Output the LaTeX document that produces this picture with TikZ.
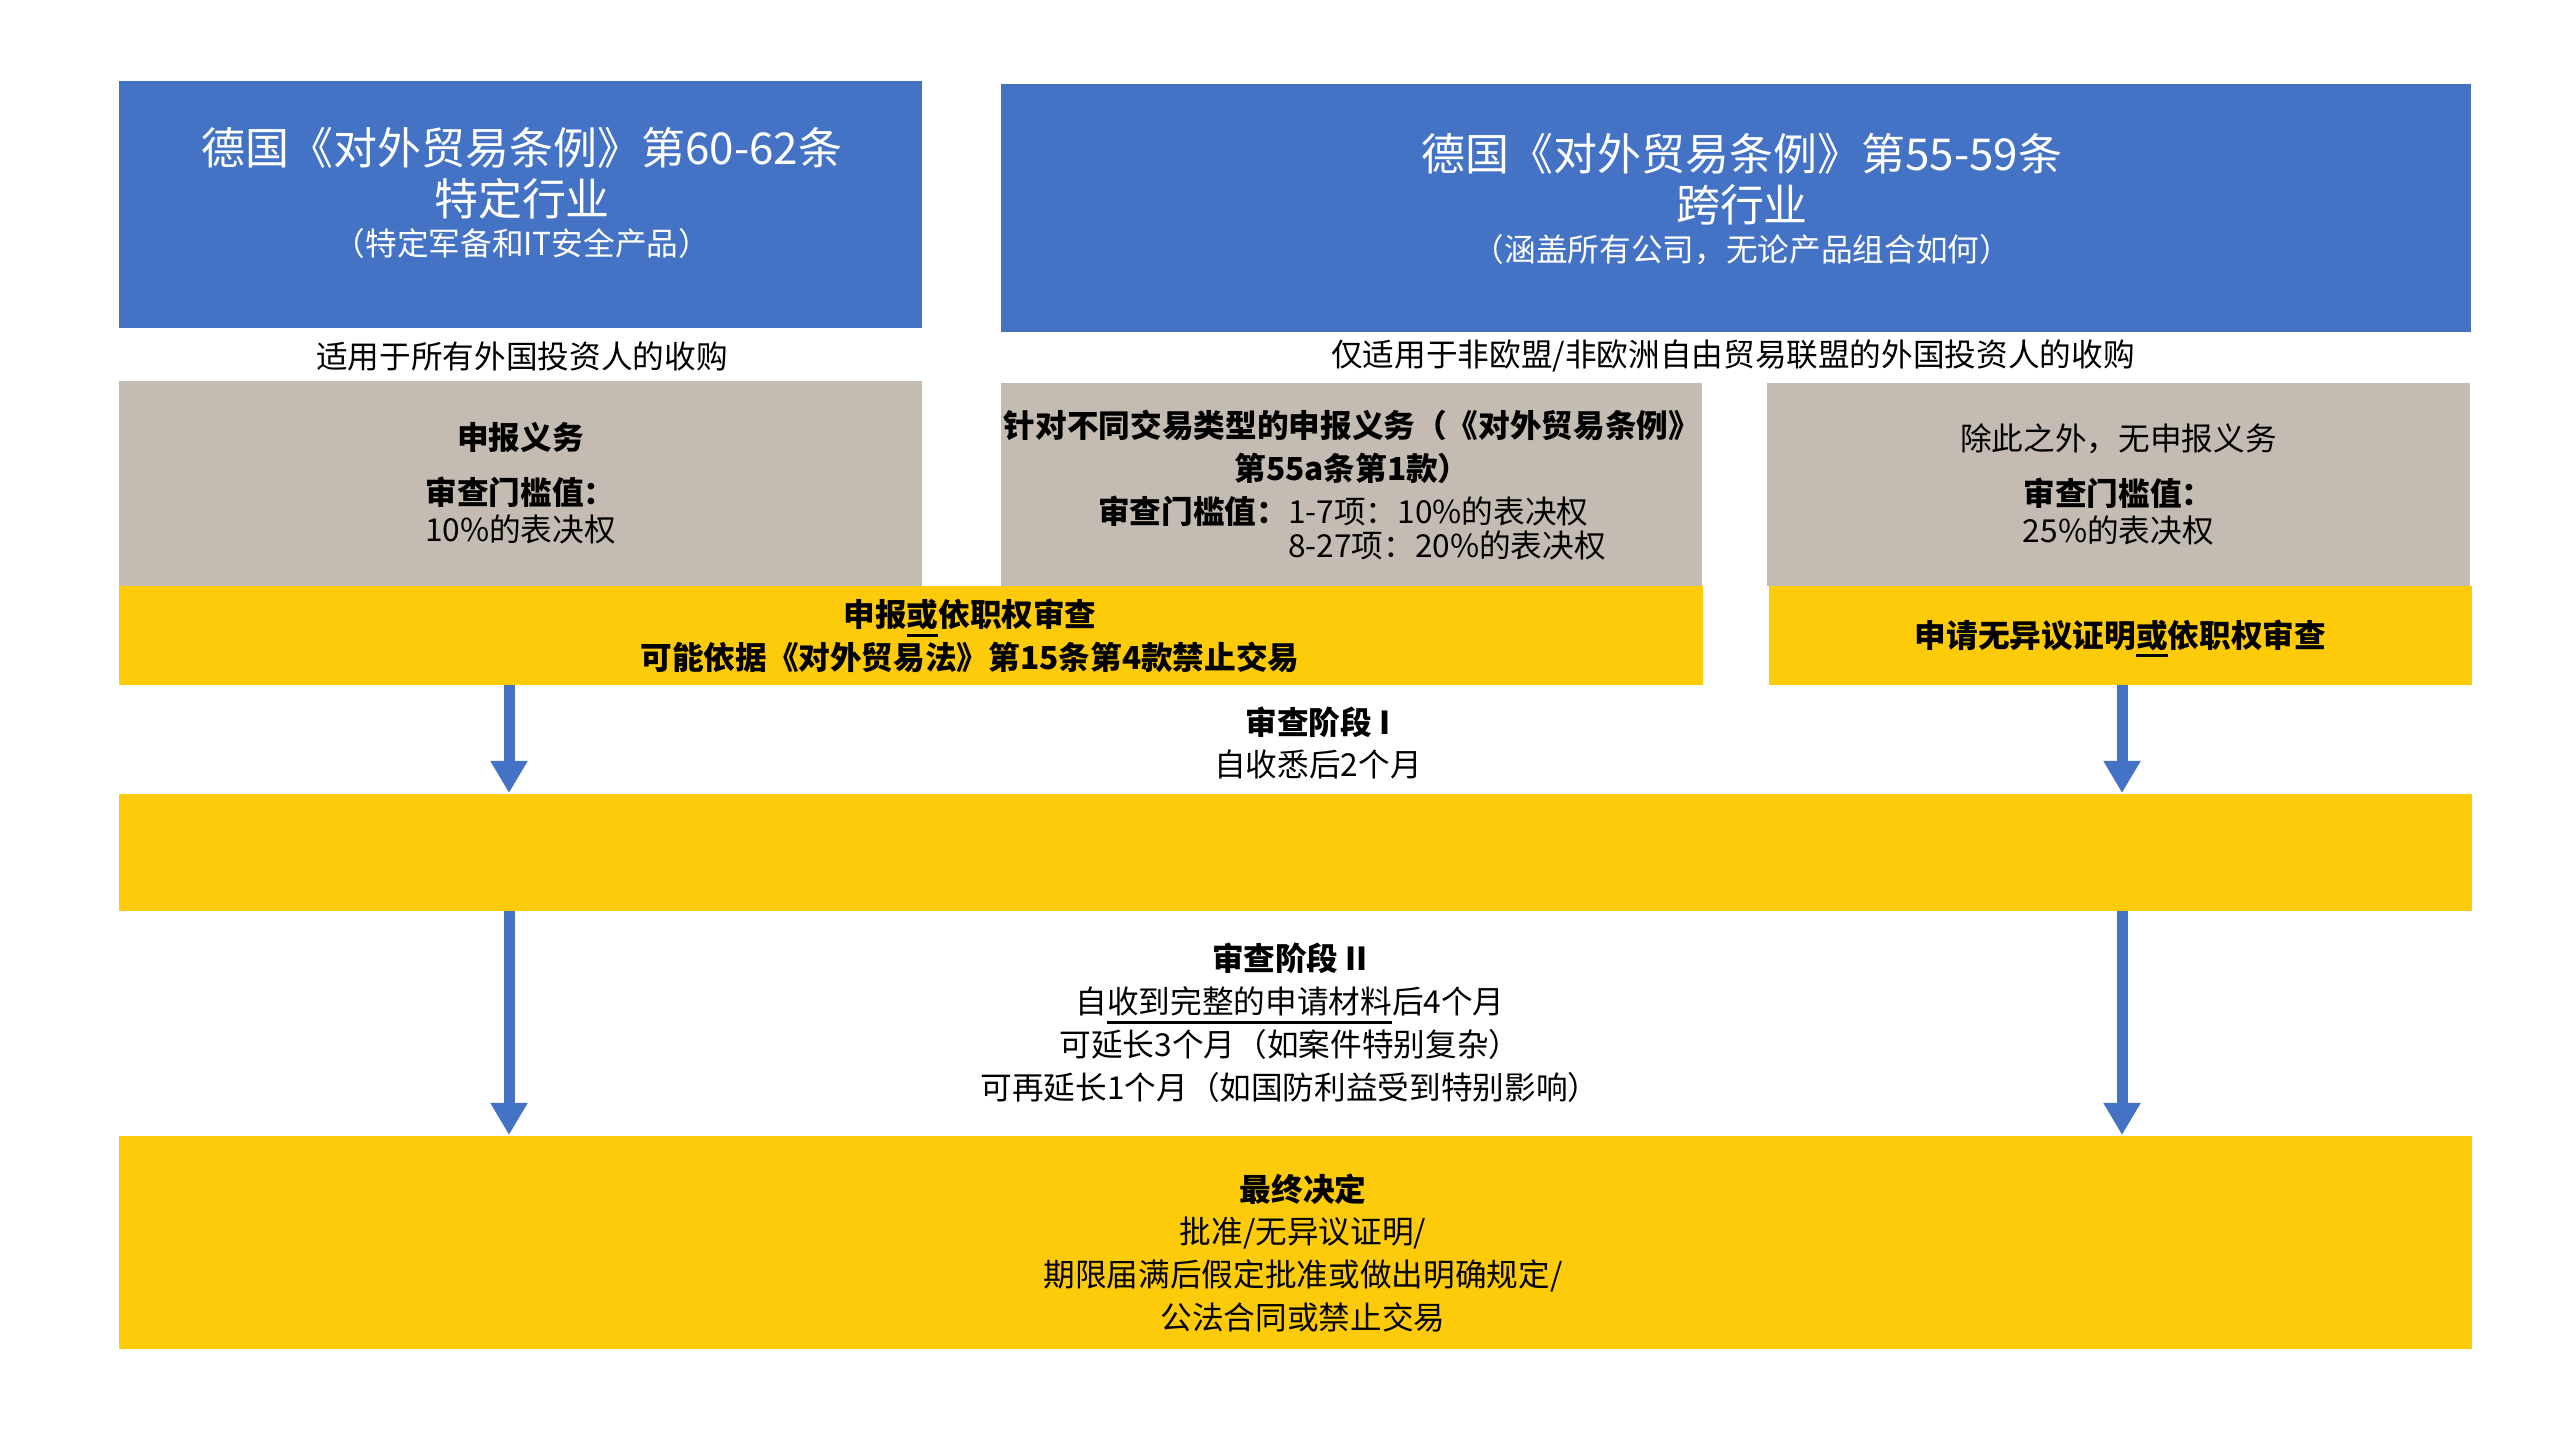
\documentclass[tikz,border=0pt]{standalone}
\usepackage{fontspec}
\setmainfont{Noto Sans CJK SC}
\usetikzlibrary{arrows.meta,positioning}
\definecolor{boxblue}{HTML}{4472C4}
\definecolor{boxgrey}{HTML}{C4BCB3}
\definecolor{boxyellow}{HTML}{FDCB0A}
\newcommand{\thickul}[1]{\setbox0\hbox{#1}\rlap{\smash{\raisebox{-2.8pt}{\rule{\wd0}{0.8pt}}}}\box0}

\begin{document}
\begin{tikzpicture}[x=0.01cm,y=-0.01cm,
    bluebox/.style={rectangle, fill=boxblue, inner sep=0pt, anchor=north west},
    greybox/.style={rectangle, fill=boxgrey, align=center, inner sep=0pt, anchor=north west, font=\fontsize{9}{12.2}\selectfont},
    yellowbox/.style={rectangle, fill=boxyellow, align=center, inner sep=0pt, anchor=north west, font=\fontsize{9}{12.2}\selectfont},
    titletxt/.style={align=center, inner sep=0pt, text=white, font=\fontsize{12.5}{14.5}\selectfont},
    txt/.style={align=center, inner sep=0pt, font=\fontsize{9}{12.2}\selectfont},
    arr/.style={-{Triangle[length=3.2mm,width=3.5mm]}, line width=1.1mm, draw=boxblue}]
  \useasboundingbox (0,0) rectangle (2560,1440);

  \node (blueL) [bluebox, minimum width=8.03cm, minimum height=2.47cm] at (118,80) {};
  \node (titleL) [titletxt] at (522,193)
    {德国《对外贸易条例》第60-62条\\ 特定行业\\[-3.3pt] {\fontsize{9}{12.2}\selectfont （特定军备和IT安全产品）}};
  \node (blueR) [bluebox, minimum width=14.69cm, minimum height=2.48cm] at (1000,83) {};
  \node (titleR) [titletxt] at (1742,199)
    {德国《对外贸易条例》第55-59条\\ 跨行业\\[-3.3pt] {\fontsize{9}{12.2}\selectfont （涵盖所有公司，无论产品组合如何）}};

  \node (scopeL) [txt] at (522,356) {适用于所有外国投资人的收购};
  \node (scopeR) [txt] at (1733,356) {仅适用于非欧盟/非欧洲自由贸易联盟的外国投资人的收购};

  \node (greyL) [greybox, minimum width=8.03cm, minimum height=2.05cm] at (118,380)
    {{\bfseries 申报义务}\\[3.4pt] {\bfseries 审查门槛值：}\\[-1.7pt] 10\%的表决权};
  \node (greyM) [greybox, minimum width=7.01cm, minimum height=2.03cm] at (1000,382) {};
  \node (greyMtext) [txt] at (1352,490)
    {{\bfseries 针对不同交易类型的申报义务（《对外贸易条例》}\\ {\bfseries 第55a条第1款）}\\
     \begin{tabular}[t]{@{}r@{}l@{}}
       \bfseries 审查门槛值： & 1-7项：10\%的表决权\\[-2.5pt]
        & 8-27项：20\%的表决权
     \end{tabular}};
  \node (greyR) [greybox, minimum width=7.03cm, minimum height=2.03cm] at (1766,382)
    {除此之外，无申报义务\\[3.4pt] {\bfseries 审查门槛值：}\\[-1.7pt] 25\%的表决权};

  \node (yelL) [yellowbox, minimum width=15.83cm, minimum height=0.99cm] at (118,585) {};
  \node (yelLtext) [txt] at (970,636)
    {\bfseries 申报\thickul{或}依职权审查\\ \bfseries 可能依据《对外贸易法》第15条第4款禁止交易};
  \node (yelR) [yellowbox, minimum width=7.03cm, minimum height=0.99cm] at (1768,585)
    {\bfseries 申请无异议证明\thickul{或}依职权审查};

  \node (phase1) [txt] at (1318,743) {{\bfseries 审查阶段 I}\\ 自收悉后2个月};
  \node (yelMid) [yellowbox, minimum width=23.52cm, minimum height=1.17cm] at (118,793) {};

  \node (phase2) [txt] at (1290,1023)
    {{\bfseries 审查阶段 II}\\ 自\thickul{收到完整的申请材料}后4个月\\ 可延长3个月（如案件特别复杂）\\ 可再延长1个月（如国防利益受到特别影响）};
  \node (yelEnd) [yellowbox, minimum width=23.52cm, minimum height=2.13cm] at (118,1135) {};
  \node (decision) [txt] at (1303,1253)
    {{\bfseries 最终决定}\\ 批准/无异议证明/\\ 期限届满后假定批准或做出明确规定/\\ 公法合同或禁止交易};

  \coordinate (colL) at (509,0);
  \coordinate (colR) at (2122,0);
  \draw[arr] (colL |- yelL.south) -- (colL |- yelMid.north);
  \draw[arr] (colR |- yelR.south) -- (colR |- yelMid.north);
  \draw[arr] (colL |- yelMid.south) -- (colL |- yelEnd.north);
  \draw[arr] (colR |- yelMid.south) -- (colR |- yelEnd.north);
\end{tikzpicture}
\end{document}
